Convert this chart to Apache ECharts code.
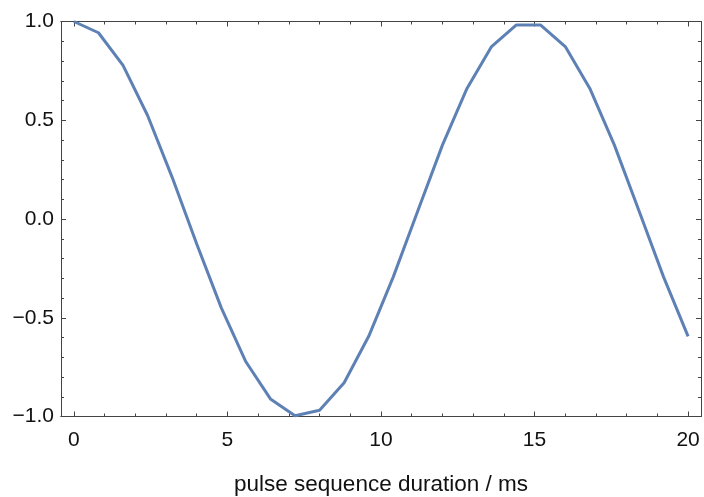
<!DOCTYPE html>
<html>
<head>
<meta charset="utf-8">
<script src="https://cdn.jsdelivr.net/npm/echarts@6/dist/echarts.min.js"></script>
<style>html,body{margin:0;padding:0;background:#fff;}#c{width:704px;height:497px;}</style>
</head>
<body>
<div id="c"></div>
<script>
const xValues = [0, 0.8, 1.6, 2.4, 3.2, 4.0, 4.8, 5.6, 6.4, 7.2, 8.0, 8.8, 9.6, 10.4, 11.2, 12.0, 12.8, 13.6, 14.4, 15.2, 16.0, 16.8, 17.6, 18.4, 19.2, 20.0];
const yValues = [1.00, 0.943, 0.778, 0.524, 0.211, -0.127, -0.450, -0.723, -0.911, -0.996, -0.968, -0.829, -0.594, -0.293, 0.042, 0.374, 0.661, 0.873, 0.982, 0.982, 0.873, 0.661, 0.374, 0.042, -0.293, -0.594];
const xMajorTicks = [0, 5, 10, 15, 20];
const xMinorTicks = [0,1,2,3,4,5,6,7,8,9,10,11,12,13,14,15,16,17,18,19,20];
const xTitle = 'pulse sequence duration / ms';

const FONT = 'Liberation Sans, Arial, sans-serif';
const FRAME = '#444';
const X_MIN = -0.42, X_MAX = 20.42;

const chart = echarts.init(document.getElementById('c'), null, {renderer: 'canvas'});
const fmtY = v => (v < 0 ? '\u2212' : '') + Math.abs(v).toFixed(1);

function xAx(pos, major, labels) {
  return {
    type: 'value', position: pos, min: X_MIN, max: X_MAX,
    axisLine: {show: true, onZero: false, lineStyle: {color: FRAME, width: 1}},
    axisTick: {show: true, inside: true, length: major ? 5 : 3, customValues: major ? xMajorTicks : xMinorTicks, lineStyle: {color: FRAME, width: 1}},
    axisLabel: {show: labels, customValues: xMajorTicks, fontFamily: FONT, fontSize: 21, color: '#111', margin: 13},
    splitLine: {show: false}
  };
}
function yAx(pos, labels) {
  return {
    type: 'value', position: pos, min: -1, max: 1, interval: 0.5,
    axisLine: {show: true, onZero: false, lineStyle: {color: FRAME, width: 1}},
    axisTick: {show: true, inside: true, length: 5, lineStyle: {color: FRAME, width: 1}},
    minorTick: {show: true, splitNumber: 5, length: 3, lineStyle: {color: FRAME, width: 1}},
    axisLabel: {show: labels, formatter: fmtY, fontFamily: FONT, fontSize: 21, color: '#111', margin: 7},
    splitLine: {show: false}
  };
}

const xAxes = [xAx('bottom', true, true), xAx('bottom', false, false), xAx('top', true, false), xAx('top', false, false)];
xAxes[0].name = xTitle;
xAxes[0].nameLocation = 'middle';
xAxes[0].nameGap = 57;
xAxes[0].nameTextStyle = {fontFamily: FONT, fontSize: 22.5, color: '#111'};

chart.setOption({
  animation: false,
  backgroundColor: '#fff',
  grid: {left: 61, right: 3, top: 21.5, bottom: 80.5, containLabel: false, outerBoundsMode: 'none'},
  xAxis: xAxes,
  yAxis: [yAx('left', true), yAx('right', false)],
  series: [{
    type: 'line',
    data: xValues.map((x, i) => [x, yValues[i]]),
    showSymbol: false,
    lineStyle: {color: '#5E81B5', width: 3},
    itemStyle: {color: '#5E81B5'},
    clip: false
  }]
});
</script>
</body>
</html>
